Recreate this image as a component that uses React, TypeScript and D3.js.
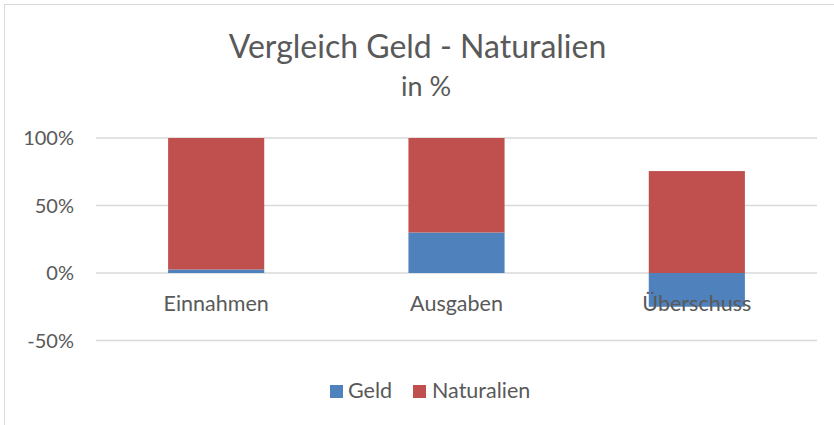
import React from "react";
import * as d3 from "d3";

const categories = ["Einnahmen", "Ausgaben", "Überschuss"];
const geld = [2.6, 30, -25];
const naturalien = [97.4, 70, 75.5];
const seriesNames = ["Geld", "Naturalien"];
const seriesColors = ["#4F81BD", "#C0504D"];
const yTicks = [-50, 0, 50, 100];

const W = 834;
const H = 425;
const FONT = "Lato, 'Open Sans', sans-serif";
const TXT = "#595959";

export default function App() {
  const x = d3.scaleBand().domain(categories).range([96, 817]).paddingInner(0.6).paddingOuter(0.3);
  const y = d3.scaleLinear().domain([-50, 100]).range([340.5, 138]);

  const stacks = categories.map((c, i) => {
    const g = geld[i];
    const n = naturalien[i];
    const segs: { y0: number; y1: number; color: string }[] = [];
    let pos = 0;
    let neg = 0;
    [g, n].forEach((v, k) => {
      if (v >= 0) {
        segs.push({ y0: pos, y1: pos + v, color: seriesColors[k] });
        pos += v;
      } else {
        segs.push({ y0: neg + v, y1: neg, color: seriesColors[k] });
        neg += v;
      }
    });
    return { c, segs };
  });

  return (
    <svg width={W} height={H} style={{ position: "absolute", left: 0, top: 0, background: "#fff" }} fontFamily={FONT}>
      <rect x={4.5} y={4.5} width={W + 10} height={H + 10} fill="#fff" stroke="#D9D9D9" strokeWidth={1} />
      <text x={417.5} y={58} textAnchor="middle" fontSize={32} fill={TXT}>Vergleich Geld - Naturalien</text>
      <text x={426} y={96} textAnchor="middle" fontSize={27} fill={TXT}>in %</text>
      {yTicks.map((t) => (
        <g key={t}>
          <line x1={96} x2={817} y1={y(t)} y2={y(t)} stroke="#D9D9D9" strokeWidth={1.5} />
          <text x={74} y={y(t) + 7} textAnchor="end" fontSize={20} fill={TXT}>{t + "%"}</text>
        </g>
      ))}
      {stacks.map((s) => (
        <g key={s.c}>
          {s.segs.map((seg, k) => (
            <rect key={k} x={x(s.c)} width={x.bandwidth()} y={y(seg.y1)} height={y(seg.y0) - y(seg.y1)} fill={seg.color} />
          ))}
        </g>
      ))}
      {categories.map((c) => (
        <text key={c} x={(x(c) as number) + x.bandwidth() / 2} y={311} textAnchor="middle" fontSize={21.5} fill={TXT}>{c}</text>
      ))}
      <g>
        <rect x={330} y={385} width={13} height={13} fill={seriesColors[0]} />
        <text x={348} y={398} fontSize={21.5} fill={TXT}>{seriesNames[0]}</text>
        <rect x={413} y={385} width={13} height={13} fill={seriesColors[1]} />
        <text x={432} y={398} fontSize={21.5} fill={TXT}>{seriesNames[1]}</text>
      </g>
    </svg>
  );
}
